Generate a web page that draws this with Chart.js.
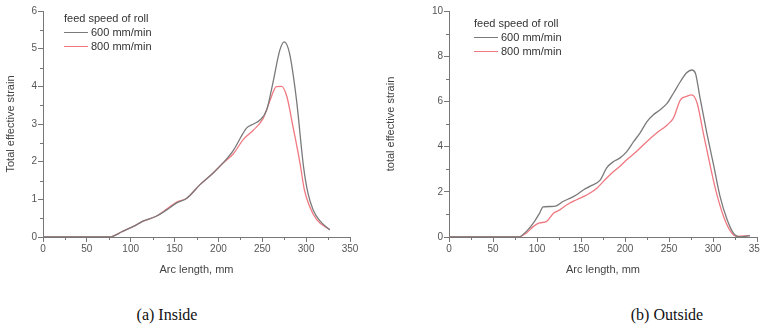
<!DOCTYPE html>
<html>
<head>
<meta charset="utf-8">
<script src="https://cdn.jsdelivr.net/npm/chart.js@4/dist/chart.umd.min.js"></script>
<style>
  body { margin: 0; width: 760px; height: 329px; overflow: hidden; background: #fff; position: relative; font-family: "Liberation Sans", Arial, sans-serif; }
  .wrap { position: absolute; top: 0; height: 281px; }
  .legend { position: absolute; font-size: 11px; color: #333; line-height: 14px; }
  .legend .row { display: flex; align-items: center; }
  .legend .ln { display: inline-block; width: 24px; height: 0; border-top: 1.3px solid; margin-right: 3px; }
  .caption { position: absolute; top: 306px; font-family: "Liberation Serif", "Times New Roman", serif; font-size: 16px; color: #111; transform: translateX(-50%); white-space: nowrap; }
</style>
</head>
<body>
<div class="wrap" style="left:0;width:380px;"><canvas id="inside"></canvas></div>
<div class="wrap" style="left:380px;width:410px;"><canvas id="outside"></canvas></div>

<div class="legend" style="left:64px;top:11px;">
  <div>feed speed of roll</div>
  <div class="row"><span class="ln" style="border-color:#7a7a7a"></span>600 mm/min</div>
  <div class="row"><span class="ln" style="border-color:#f07880"></span>800 mm/min</div>
</div>
<div class="legend" style="left:474px;top:16px;">
  <div>feed speed of roll</div>
  <div class="row"><span class="ln" style="border-color:#7a7a7a"></span>600 mm/min</div>
  <div class="row"><span class="ln" style="border-color:#f07880"></span>800 mm/min</div>
</div>

<div class="caption" style="left:167px;">(a) Inside</div>
<div class="caption" style="left:667px;">(b) Outside</div>

<script>
// (a) Inside
const inX600 = [0, 25, 50, 76, 90, 103, 114, 129, 141, 152, 164, 179, 194, 205, 217, 228, 232, 240, 247, 255, 262, 270, 275, 281, 289, 297, 302, 308, 316, 327];
const inY600 = [0, 0, 0, 0, 0.14, 0.28, 0.42, 0.55, 0.72, 0.9, 1.03, 1.39, 1.7, 1.96, 2.3, 2.75, 2.89, 3.0, 3.1, 3.37, 4.08, 4.96, 5.18, 4.88, 3.64, 1.87, 1.17, 0.72, 0.42, 0.19];
const inX800 = [0, 25, 50, 76, 90, 103, 114, 129, 141, 152, 164, 179, 194, 205, 217, 228, 240, 251, 259, 266, 272, 278, 285, 293, 298, 304, 312, 327];
const inY800 = [0, 0, 0, 0, 0.14, 0.28, 0.42, 0.55, 0.74, 0.92, 1.03, 1.39, 1.7, 1.96, 2.21, 2.58, 2.84, 3.15, 3.64, 3.99, 4.0, 3.73, 2.93, 1.96, 1.25, 0.81, 0.46, 0.19];

// (b) Outside
const outX600 = [0, 25, 50, 79, 88, 96, 103, 107, 115, 122, 130, 138, 145, 153, 160, 172, 179, 187, 194, 202, 210, 217, 225, 232, 240, 248, 255, 263, 270, 276, 280, 285, 293, 301, 308, 316, 323, 331, 342];
const outY600 = [0, 0, 0, 0, 0.25, 0.62, 1.06, 1.33, 1.35, 1.38, 1.58, 1.72, 1.87, 2.09, 2.24, 2.53, 3.05, 3.34, 3.49, 3.78, 4.23, 4.6, 5.11, 5.4, 5.63, 5.92, 6.36, 6.88, 7.27, 7.39, 7.25, 6.21, 4.6, 3.12, 1.8, 0.77, 0.18, 0, 0.06];
const outX800 = [0, 25, 50, 79, 88, 96, 103, 111, 119, 126, 134, 145, 157, 168, 179, 187, 194, 202, 213, 225, 236, 248, 255, 263, 270, 276, 282, 289, 297, 304, 312, 320, 327, 342];
const outY800 = [0, 0, 0, 0, 0.18, 0.47, 0.62, 0.69, 1.06, 1.2, 1.43, 1.65, 1.87, 2.16, 2.6, 2.9, 3.12, 3.42, 3.78, 4.23, 4.6, 4.96, 5.26, 6.07, 6.22, 6.29, 5.92, 4.6, 3.12, 1.94, 0.91, 0.25, 0.03, 0.06];

const xTicks = [0, 50, 100, 150, 200, 250, 300, 350];
const seriesNames = ["600 mm/min", "800 mm/min"];
const seriesColors = ["#7a7a7a", "#f07880"];

const pts = (xs, ys) => xs.map((x, i) => ({ x: x, y: ys[i] }));

// short minor ticks between the major ones
const minorTicks = {
  id: "minorTicks",
  afterDraw(chart, args, opts) {
    const ctx = chart.ctx;
    const xs = chart.scales.x, ys = chart.scales.y;
    ctx.save();
    ctx.strokeStyle = "#777";
    ctx.lineWidth = 1;
    ctx.beginPath();
    for (let v = 25; v < 350; v += 50) {
      const px = Math.round(xs.getPixelForValue(v)) + 0.5;
      ctx.moveTo(px, xs.top);
      ctx.lineTo(px, xs.top + 3);
    }
    for (let v = opts.yMinor; v < ys.max; v += opts.yStep) {
      const py = Math.round(ys.getPixelForValue(v)) + 0.5;
      ctx.moveTo(ys.right, py);
      ctx.lineTo(ys.right - 3, py);
    }
    ctx.stroke();
    ctx.restore();
  }
};

function makeChart(id, d600, d800, yMax, yStep, yTitle, yWidth, padRight) {
  new Chart(document.getElementById(id), {
    type: "line",
    data: {
      datasets: [
        { label: seriesNames[0], data: d600, borderColor: seriesColors[0], borderWidth: 1.3, pointRadius: 0, cubicInterpolationMode: "monotone" },
        { label: seriesNames[1], data: d800, borderColor: seriesColors[1], borderWidth: 1.3, pointRadius: 0, cubicInterpolationMode: "monotone" }
      ]
    },
    options: {
      responsive: true,
      maintainAspectRatio: false,
      animation: false,
      layout: { padding: { top: 11, right: padRight, bottom: 0, left: 0 } },
      plugins: { legend: { display: false }, tooltip: { enabled: false }, minorTicks: { yMinor: yStep / 2, yStep: yStep } },
      scales: {
        x: {
          type: "linear", min: 0, max: 350,
          afterBuildTicks: (s) => { s.ticks = xTicks.map(v => ({ value: v })); },
          afterFit: (s) => { s.height = 44; },
          grid: { drawOnChartArea: false, drawTicks: true, tickLength: 5, color: "#777" },
          border: { color: "#777" },
          ticks: { color: "#555", font: { family: "Liberation Sans", size: 10 }, padding: 1, maxRotation: 0 },
          title: { display: true, text: "Arc length, mm", color: "#444", font: { family: "Liberation Sans", size: 11 }, padding: { top: 2 } }
        },
        y: {
          min: 0, max: yMax,
          afterFit: (s) => { s.width = yWidth; },
          grid: { drawOnChartArea: false, drawTicks: true, tickLength: 5, color: "#777" },
          border: { color: "#777" },
          ticks: { stepSize: yStep, color: "#555", font: { family: "Liberation Sans", size: 10 }, padding: 1 },
          title: { display: true, text: yTitle, color: "#444", font: { family: "Liberation Sans", size: 11 } }
        }
      }
    },
    plugins: [minorTicks]
  });
}

makeChart("inside", pts(inX600, inY600), pts(inX800, inY800), 6, 1, "Total effective strain", 43, 30);
makeChart("outside", pts(outX600, outY600), pts(outX800, outY800), 10, 2, "total effective strain", 69, 33);
</script>
</body>
</html>
